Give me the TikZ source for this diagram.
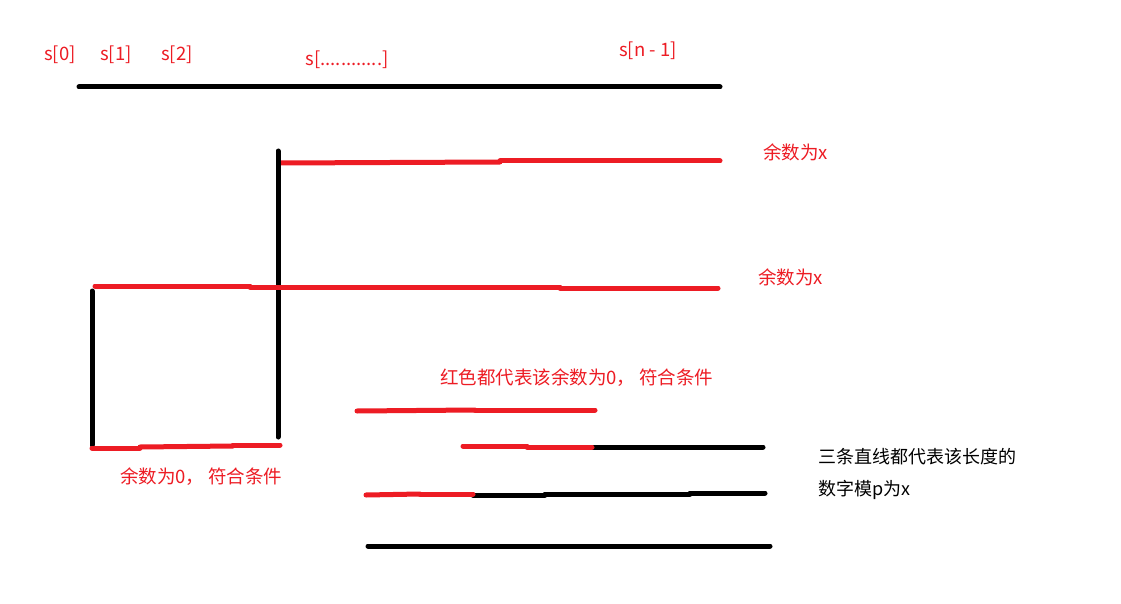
\documentclass[tikz,border=0pt]{standalone}
\usepackage{fontspec}
\setmainfont{Noto Sans CJK SC}
\definecolor{pred}{HTML}{ED1C24}
\begin{document}
\begin{tikzpicture}[x=1pt,y=-1pt,
  redline/.style={draw=pred,line width=5pt,line cap=round},
  blackline/.style={draw=black,line width=5pt,line cap=round},
  redlabel/.style={text=pred,font=\fontsize{18.5}{21}\selectfont,inner sep=0pt},
  blacklabel/.style={text=black,font=\fontsize{18}{21}\selectfont,inner sep=0pt,anchor=west}]
\useasboundingbox[fill=white] (0,0) rectangle (1121,604);
% labels
\node[redlabel] (s0) at (60,55) {s[0]};
\node[redlabel] (s1) at (116,55) {s[1]};
\node[redlabel] (s2) at (177,55) {s[2]};
\node[redlabel] (sd) at (347,60) {s[............]};
\node[redlabel] (sn) at (648,51) {s[n - 1]};
\node[redlabel,anchor=west] (r1) at (763,152) {余数为x};
\node[redlabel,anchor=west] (r2) at (758,277) {余数为x};
\node[redlabel,anchor=west] (z1) at (120,477) {余数为0，\hspace{4pt}符合条件};
\node[redlabel,anchor=west] (z2) at (440,378) {红色都代表该余数为0，\hspace{4pt}符合条件};
\node[blacklabel] (n1) at (818,457) {三条直线都代表该长度的};
\node[blacklabel] (n2) at (818,490) {数字模p为x};
% top line
\draw[blackline] (79,87) -- (720,87);
% upper red line with vertical
\draw[redline] (280,163) -- (500,162);
\draw[redline] (500,161) -- (720,161);
\draw[blackline] (278,151) -- (278,437);
% middle red line
\draw[redline] (95,286) -- (250,286);
\draw[redline] (250,287) -- (560,287);
\draw[redline] (560,288) -- (718,288);
\draw[blackline] (92,291) -- (92,445);
% bottom red of box
\draw[redline] (92,448) -- (140,448);
\draw[redline] (140,447) -- (233,446);
\draw[redline] (233,445) -- (280,445);
% lower group
\draw[redline] (357,411) -- (475,410);
\draw[redline] (475,410) -- (595,410);
\draw[blackline] (592,447) -- (763,447);
\draw[redline] (463,446) -- (527,446);
\draw[redline] (527,447) -- (592,447);
\draw[blackline] (473,495) -- (545,495);
\draw[blackline] (545,494) -- (690,494);
\draw[blackline] (690,493) -- (765,493);
\draw[redline] (366,495) -- (420,494);
\draw[redline] (420,494) -- (473,494);
\draw[blackline] (368,546) -- (770,546);
\end{tikzpicture}
\end{document}
